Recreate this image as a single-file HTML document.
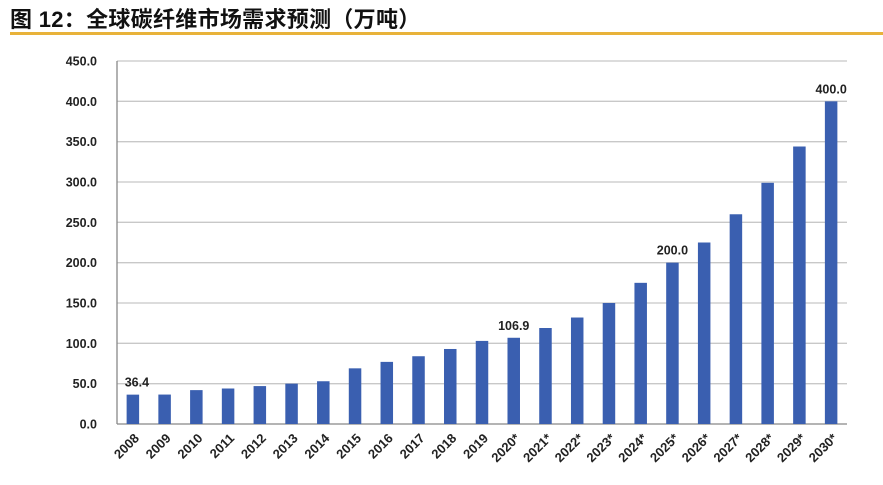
<!DOCTYPE html>
<html><head><meta charset="utf-8"><style>
body{margin:0;background:#fff;width:883px;height:485px;overflow:hidden;font-family:"Liberation Sans","Noto Sans CJK SC",sans-serif}
#title{position:absolute;left:10px;top:2px;font-size:22px;font-weight:bold;color:#111;font-family:"Liberation Sans","Noto Sans CJK SC",sans-serif;letter-spacing:0.3px;white-space:nowrap}
#rule{position:absolute;left:10px;top:32px;width:873px;height:3px;background:#e8b23a}
svg{position:absolute;left:0;top:0}
</style></head><body>
<div id="title">图 12：全球碳纤维市场需求预测（万吨）</div>
<div id="rule"></div>
<svg id="chart" width="883" height="485"></svg>
<script>
const categories=["2008","2009","2010","2011","2012","2013","2014","2015","2016","2017","2018","2019","2020*","2021*","2022*","2023*","2024*","2025*","2026*","2027*","2028*","2029*","2030*"];
const values=[36.4,36.5,42,44,47,50,53,69,77,84,93,103,106.9,119,132,150,175,200,225,260,299,344,400];
const labeledIdx=[0,12,17,22];
const yTicks=[0,50,100,150,200,250,300,350,400,450];
const NS="http://www.w3.org/2000/svg";
const svg=document.getElementById('chart');
const L=117,R=847,T=61,B=424,yMax=450;
const y=v=>B-(v/yMax)*(B-T);
const band=(R-L)/categories.length;
const x=i=>L+band*(i+0.5);
function mk(t,a){const e=document.createElementNS(NS,t);for(const k in a)e.setAttribute(k,a[k]);svg.appendChild(e);return e;}
yTicks.forEach(v=>{
 const g=mk('line',{x1:L,x2:R,y1:y(v),y2:y(v),stroke:v===0?'#888':'#c8c8c8','stroke-width':1.3});
 
 
 const t=mk('text',{x:97,y:y(v)+4.5,'text-anchor':'end','font-size':12.5,'font-weight':'bold',fill:'#222'});
 t.textContent=v.toFixed(1);
 
 
});
const ax=mk('line',{x1:L,x2:L,y1:T,y2:B,stroke:'#888','stroke-width':1.3});


categories.forEach((c,i)=>{
 const bw=12.5;
 const r=mk('rect',{x:x(i)-bw/2,y:y(values[i]),width:bw,height:B-y(values[i]),fill:'#3a5fb0'});
 
 
 const t=mk('text',{x:x(i)+7,y:B+15,'text-anchor':'end','font-size':13,'font-weight':'bold',fill:'#222',transform:`rotate(-45 ${x(i)+7} ${B+15})`});
 t.textContent=c;
 
 
});
labeledIdx.forEach(i=>{
 const t=mk('text',{x:x(i)+(i===0?4:0),y:y(values[i])-8,'text-anchor':'middle','font-size':12.5,'font-weight':'bold',fill:'#222'});
 t.textContent=values[i].toFixed(1);
 
 
});
</script>
</body></html>
